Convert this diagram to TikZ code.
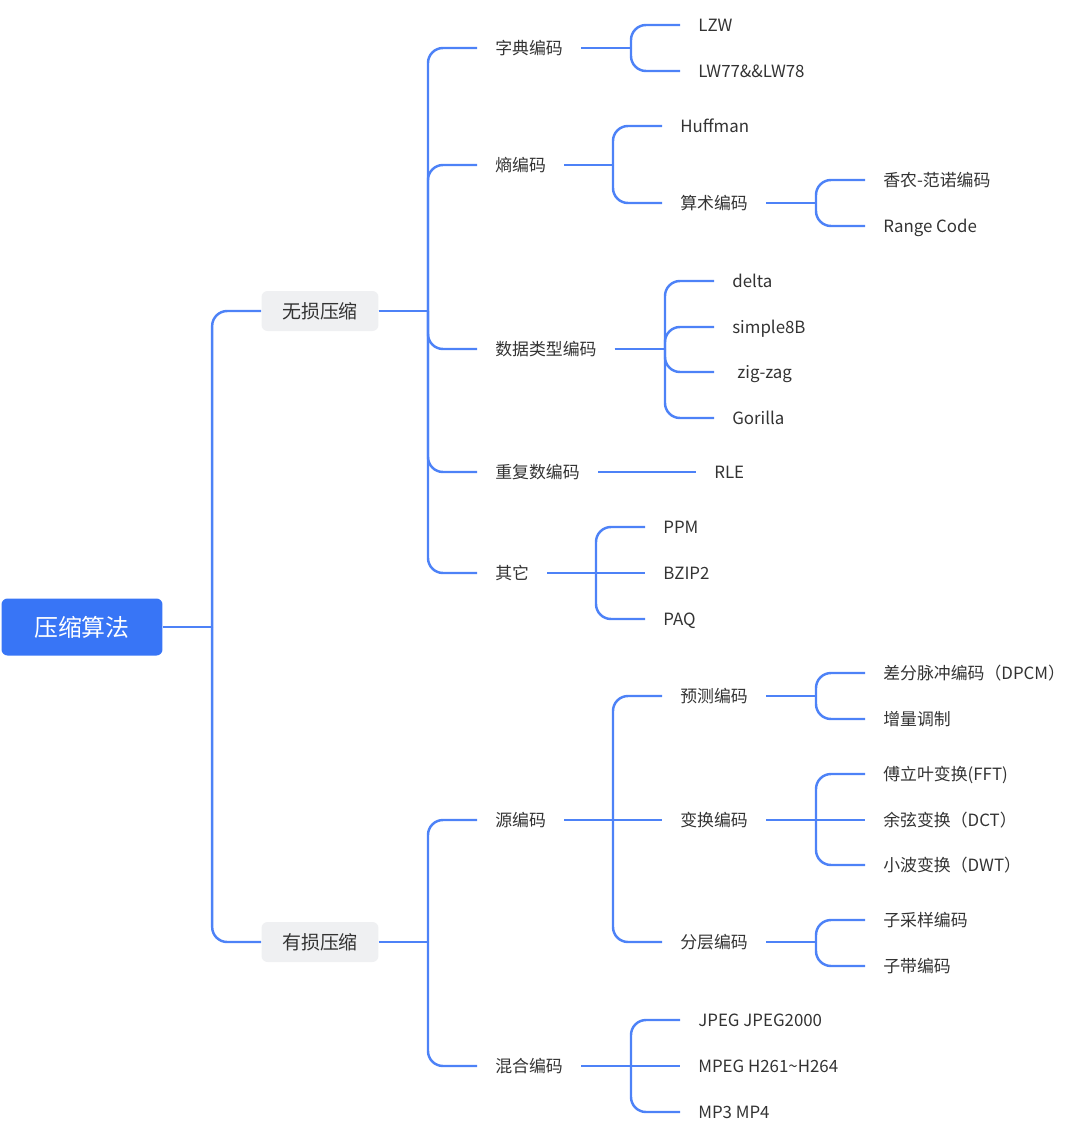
\documentclass[tikz,border=0pt]{standalone}
\usepackage{fontspec}
\setmainfont{Noto Sans CJK SC}
\usepackage{tikz}
\usetikzlibrary{calc}

\definecolor{linkblue}{HTML}{4D82F7}
\definecolor{rootblue}{HTML}{3875F6}
\definecolor{boxgray}{HTML}{EFF0F2}
\definecolor{textgray}{HTML}{333333}

\tikzset{
  leaf/.style={anchor=west, inner xsep=0.36cm, inner ysep=0.08cm,
    text height=0.85em, text depth=0.15em, text=textgray,
    font=\fontsize{9.6}{11}\selectfont},
  topic/.style={fill=boxgray, rounded corners=0.12cm, minimum width=2.34cm,
    minimum height=0.8cm, text=textgray, font=\fontsize{10.8}{12}\selectfont},
  root/.style={fill=rootblue, rounded corners=0.12cm, minimum width=3.22cm,
    minimum height=1.14cm, text=white, font=\fontsize{13.6}{15}\selectfont},
  link/.style={draw=linkblue, line width=1.4pt},
}

\begin{document}
\begin{tikzpicture}[x=0.02cm, y=-0.02cm]
  \def\gap{49}
  \useasboundingbox (0,0) rectangle (1080,1143);

  % root and the two main branches
  \node[root] (root) at (82,627) {压缩算法};
  \node[topic] (wusun) at (320,311) {无损压缩};
  \node[topic] (yousun) at (320,942) {有损压缩};

  % lossless
  \node[leaf] (zidian) at (477,48) {字典编码};
  \node[leaf] (shang) at (477,165) {熵编码};
  \node[leaf] (shuju) at (477,349) {数据类型编码};
  \node[leaf] (chongfu) at (477,472) {重复数编码};
  \node[leaf] (qita) at (477,573) {其它};

  \node[leaf] (lzw) at (680,25) {LZW};
  \node[leaf] (lw) at (680,71) {LW77\&\&LW78};

  \node[leaf] (huff) at (662,126) {Huffman};
  \node[leaf] (suanshu) at (662,203) {算术编码};
  \node[leaf] (xiangnong) at (865,180) {香农-范诺编码};
  \node[leaf] (range) at (865,226) {Range Code};

  \node[leaf] (delta) at (714,281) {delta};
  \node[leaf] (simple) at (714,327) {simple8B};
  \node[leaf] (zigzag) at (714,372) {\hspace{0.1cm}zig-zag};
  \node[leaf] (gorilla) at (714,418) {Gorilla};

  \node[leaf] (rle) at (696,472) {RLE};

  \node[leaf] (ppm) at (645,527) {PPM};
  \node[leaf] (bzip) at (645,573) {BZIP2};
  \node[leaf] (paq) at (645,619) {PAQ};

  % lossy
  \node[leaf] (yuan) at (477,820) {源编码};
  \node[leaf] (hunhe) at (477,1066) {混合编码};

  \node[leaf] (yuce) at (662,696) {预测编码};
  \node[leaf] (bianhuan) at (662,820) {变换编码};
  \node[leaf] (fenceng) at (662,942) {分层编码};

  \node[leaf] (dpcm) at (865,673) {差分脉冲编码（DPCM）};
  \node[leaf] (zengliang) at (865,719) {增量调制};
  \node[leaf] (fft) at (865,774) {傅立叶变换(FFT)};
  \node[leaf] (dct) at (865,820) {余弦变换（DCT）};
  \node[leaf] (dwt) at (865,865) {小波变换（DWT）};
  \node[leaf] (zicai) at (865,920) {子采样编码};
  \node[leaf] (zidai) at (865,966) {子带编码};

  \node[leaf] (jpeg) at (680,1020) {JPEG JPEG2000};
  \node[leaf] (mpeg) at (680,1066) {MPEG H261\textasciitilde H264};
  \node[leaf] (mp3) at (680,1112) {MP3 MP4};

  % connectors: parent -> bus -> child
  \foreach \p/\cs in {root/{wusun,yousun},
      wusun/{zidian,shang,shuju,chongfu,qita},
      zidian/{lzw,lw}, shang/{huff,suanshu}, suanshu/{xiangnong,range},
      shuju/{delta,simple,zigzag,gorilla}, chongfu/{rle},
      qita/{ppm,bzip,paq},
      yousun/{yuan,hunhe}, yuan/{yuce,bianhuan,fenceng},
      yuce/{dpcm,zengliang}, bianhuan/{fft,dct,dwt},
      fenceng/{zicai,zidai}, hunhe/{jpeg,mpeg,mp3}} {
    \foreach \c in \cs {
      \coordinate (bus) at ($(\p.east -| \c.west)+(-\gap,0)$);
      \path (bus); \pgfgetlastxy{\bx}{\by}
      \path (\c.west); \pgfgetlastxy{\cx}{\cy}
      \pgfmathtruncatemacro\bent{abs(\by-\cy)>1 ? 1 : 0}
      \draw[link] (\p.east) -- (bus);
      \ifnum\bent=1
        \draw[link, rounded corners=0.3cm] (bus) |- (\c.west);
      \else
        \draw[link] (bus) -- (\c.west);
      \fi
    }
  }
\end{tikzpicture}
\end{document}
